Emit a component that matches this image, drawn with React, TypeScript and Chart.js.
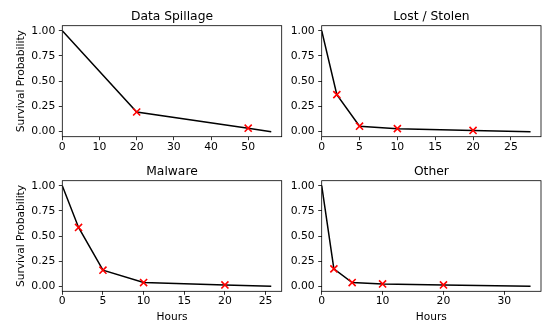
import React, { useEffect, useRef } from 'react';
import { Chart, registerables } from 'chart.js';

Chart.register(...registerables);

// ---- data ----
const panelTitles = ['Data Spillage', 'Lost / Stolen', 'Malware', 'Other'];
const spillageHours = [0, 20, 50, 56.2];
const spillageSurvival = [1, 0.195, 0.034, 0];
const lostHours = [0, 2, 5, 10, 20, 27.6];
const lostSurvival = [1, 0.367, 0.054, 0.03, 0.012, 0];
const malwareHours = [0, 2, 5, 10, 20, 25.7];
const malwareSurvival = [1, 0.585, 0.16, 0.037, 0.013, 0];
const otherHours = [0, 2, 5, 10, 20, 34.3];
const otherSurvival = [1, 0.173, 0.037, 0.023, 0.013, 0];
const xTickSteps = [10, 5, 5, 10];
const yTickStep = 0.25;
const yAxisLabel = 'Survival Probability';
const xAxisLabel = 'Hours';

// ---- layout ----
const W = 550;
const H = 327;
const FONT = 'DejaVu Sans';
const areas = [
  { l: 62.3, r: 281.7, t: 25.7, b: 136.7 },
  { l: 321.7, r: 541, t: 25.7, b: 136.7 },
  { l: 62.3, r: 281.7, t: 180.7, b: 291.3 },
  { l: 321.7, r: 541, t: 180.7, b: 291.3 },
];

const spinesPlugin = {
  id: 'spines',
  afterDraw(chart: any) {
    const { ctx, chartArea: a } = chart;
    ctx.save();
    ctx.strokeStyle = '#000';
    ctx.lineWidth = 0.8;
    ctx.strokeRect(a.left, a.top, a.right - a.left, a.bottom - a.top);
    ctx.restore();
  },
};

type PanelProps = {
  title: string;
  hours: number[];
  survival: number[];
  step: number;
  area: { l: number; r: number; t: number; b: number };
  showY: boolean;
  showX: boolean;
};

function Panel({ title, hours, survival, step, area, showY, showX }: PanelProps) {
  const ref = useRef<HTMLCanvasElement>(null);
  useEffect(() => {
    if (!ref.current) return;
    const n = hours.length;
    const xMax = hours[n - 1] * 1.05;
    const titleSize = 12.3;
    const titleLH = titleSize * 1.2;
    const titleTop = area.t - 6.2 - titleLH / 2 - 2.7;
    const tickFont = { family: FONT, size: 10.8, lineHeight: 1.2 };
    const labelFont = { family: FONT, size: 10.6, lineHeight: 1.2 };
    const grid = {
      drawOnChartArea: false,
      drawTicks: true,
      tickLength: 3.5,
      color: '#000',
      lineWidth: 0.8,
    };
    const chart = new Chart(ref.current, {
      type: 'line',
      data: {
        datasets: [
          {
            data: hours.map((h, i) => ({ x: h, y: survival[i] })),
            borderColor: '#000',
            borderWidth: 1.5,
            tension: 0,
            fill: false,
            pointStyle: 'crossRot',
            pointRadius: (c: any) => (c.dataIndex === 0 || c.dataIndex === n - 1 ? 0 : 5),
            pointHoverRadius: 0,
            pointBorderColor: '#ff0000',
            pointBackgroundColor: '#ff0000',
            pointBorderWidth: 1.6,
          },
        ],
      },
      options: {
        animation: false,
        responsive: false,
        events: [],
        layout: { padding: { left: 0, top: titleTop, right: W - area.r, bottom: 0 } },
        plugins: {
          legend: { display: false },
          tooltip: { enabled: false },
          title: {
            display: true,
            text: title,
            fullSize: false,
            color: '#000',
            font: { family: FONT, size: titleSize, weight: 'normal', lineHeight: 1.2 },
            padding: { top: 0, bottom: area.t - titleTop - titleLH },
          },
        },
        scales: {
          x: {
            type: 'linear',
            min: 0,
            max: xMax,
            afterFit: (s: any) => {
              s.height = H - area.b;
            },
            ticks: {
              stepSize: step,
              includeBounds: false,
              padding: 0.3,
              color: '#000',
              font: tickFont,
              maxRotation: 0,
              autoSkip: false,
            },
            grid,
            border: { display: false },
            title: {
              display: showX,
              text: xAxisLabel,
              color: '#000',
              font: labelFont,
              padding: { top: 0, bottom: 3.2 },
            },
          },
          y: {
            type: 'linear',
            min: -0.05,
            max: 1.05,
            afterFit: (s: any) => {
              s.width = area.l;
            },
            ticks: {
              stepSize: yTickStep,
              includeBounds: false,
              padding: 3.5,
              color: '#000',
              font: tickFont,
              callback: (v: any) => Number(v).toFixed(2),
            },
            grid,
            border: { display: false },
            title: {
              display: showY,
              text: yAxisLabel,
              color: '#000',
              font: labelFont,
              padding: { top: 15, bottom: 0 },
            },
          },
        },
      } as any,
      plugins: [spinesPlugin],
    });
    return () => chart.destroy();
  }, []);
  return (
    <canvas
      ref={ref}
      width={W}
      height={H}
      style={{ position: 'absolute', left: 0, top: 0, width: W, height: H }}
    />
  );
}

export default function App() {
  const hoursList = [spillageHours, lostHours, malwareHours, otherHours];
  const survList = [spillageSurvival, lostSurvival, malwareSurvival, otherSurvival];
  return (
    <div style={{ position: 'absolute', left: 0, top: 0, width: W, height: H, background: '#fff' }}>
      {panelTitles.map((t, i) => (
        <Panel
          key={t}
          title={t}
          hours={hoursList[i]}
          survival={survList[i]}
          step={xTickSteps[i]}
          area={areas[i]}
          showY={i % 2 === 0}
          showX={i >= 2}
        />
      ))}
    </div>
  );
}
